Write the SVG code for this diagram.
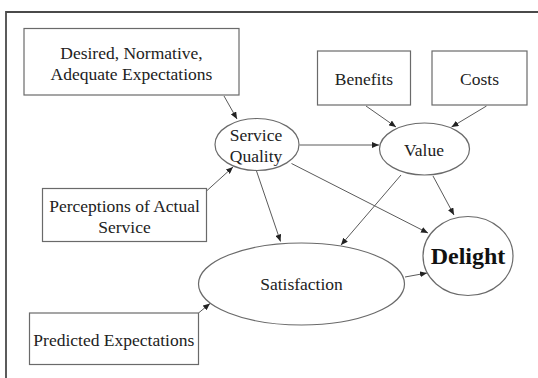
<svg xmlns="http://www.w3.org/2000/svg" width="538" height="378" viewBox="0 0 538 378">
  <style>
    .box { fill: #ffffff; stroke: #6a6a6a; stroke-width: 1.2; }
    .oval { fill: #ffffff; stroke: #6a6a6a; stroke-width: 1.2; }
    text { font-family: 'Liberation Serif', 'DejaVu Serif', serif; }
    .lbl { font-size: 17.5px; fill: #222222; text-anchor: middle; }
    .big { font-size: 24px; font-weight: bold; fill: #111111; text-anchor: middle; }
    .edge { fill: none; stroke: #5a5a5a; stroke-width: 1; marker-end: url(#tip); }
    .frame { fill: none; stroke: #4a4a4a; stroke-width: 1.8; }
  </style>
  <defs>
    <marker id="tip" markerUnits="userSpaceOnUse" markerWidth="8" markerHeight="6" refX="7" refY="3" orient="auto">
      <path d="M0,0 L7,3 L0,6 Z" fill="#222222"/>
    </marker>
  </defs>
  <rect width="538" height="378" fill="#ffffff"/>

  <!-- outer frame: top and left rules -->
  <path class="frame" d="M6,378 L6,12 L538,12"/>

  <g id="connectors">
    <line class="edge" x1="224" y1="96" x2="237" y2="119"/>
    <line class="edge" x1="206.5" y1="191" x2="233" y2="167"/>
    <line class="edge" x1="299.5" y1="145" x2="379" y2="145"/>
    <line class="edge" x1="366" y1="106" x2="396" y2="127"/>
    <line class="edge" x1="486.5" y1="106" x2="451.5" y2="127"/>
    <line class="edge" x1="291.5" y1="163.5" x2="428" y2="233"/>
    <line class="edge" x1="256.5" y1="171" x2="280.5" y2="241.5"/>
    <line class="edge" x1="401" y1="175" x2="341" y2="245"/>
    <line class="edge" x1="433" y1="176" x2="454" y2="215"/>
    <line class="edge" x1="405" y1="277" x2="427" y2="273"/>
    <line class="edge" x1="198.5" y1="313" x2="210" y2="303.5"/>
  </g>

  <g id="desired">
    <rect class="box" x="24" y="28.5" width="215" height="66.5"/>
    <text class="lbl" x="131.5" y="59" font-family="Liberation Serif, serif">Desired, Normative,</text>
    <text class="lbl" x="131.5" y="80" font-family="Liberation Serif, serif">Adequate Expectations</text>
  </g>

  <g id="benefits">
    <rect class="box" x="317.5" y="51" width="93" height="54"/>
    <text class="lbl" x="364" y="85">Benefits</text>
  </g>

  <g id="costs">
    <rect class="box" x="432" y="51" width="95" height="54"/>
    <text class="lbl" x="479.5" y="85">Costs</text>
  </g>

  <g id="service-quality">
    <ellipse class="oval" cx="257" cy="144.5" rx="42" ry="26"/>
    <text class="lbl" x="256" y="140.5">Service</text>
    <text class="lbl" x="256" y="161.5">Quality</text>
  </g>

  <g id="value">
    <ellipse class="oval" cx="424.5" cy="149" rx="45" ry="26"/>
    <text class="lbl" x="424" y="155.5">Value</text>
  </g>

  <g id="perceptions">
    <rect class="box" x="42.5" y="188.5" width="164" height="53"/>
    <text class="lbl" x="124.5" y="211.5">Perceptions of Actual</text>
    <text class="lbl" x="124.5" y="232.5">Service</text>
  </g>

  <g id="satisfaction">
    <ellipse class="oval" cx="301.5" cy="284" rx="103" ry="41"/>
    <text class="lbl" x="301.5" y="290">Satisfaction</text>
  </g>

  <g id="delight">
    <ellipse class="oval" cx="468" cy="256" rx="45" ry="39.5"/>
    <text class="big" x="468" y="264">Delight</text>
  </g>

  <g id="predicted">
    <rect class="box" x="29.5" y="313" width="169" height="51.5"/>
    <text class="lbl" x="113.8" y="345.5">Predicted Expectations</text>
  </g>
</svg>
